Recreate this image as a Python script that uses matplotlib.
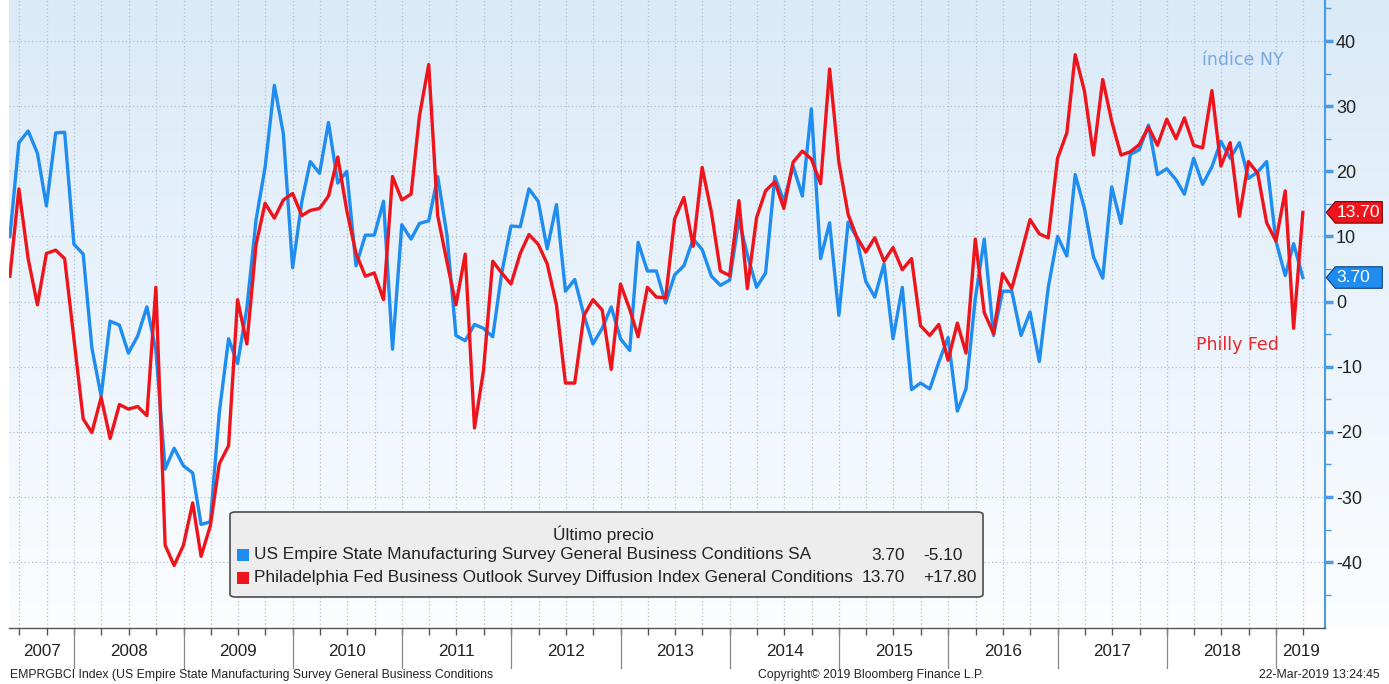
import numpy as np
import pandas as pd
import matplotlib
matplotlib.use('Agg')
import matplotlib.pyplot as plt
import matplotlib.dates as mdates
import matplotlib.transforms as mtransforms
from matplotlib import font_manager
from matplotlib.patches import FancyBboxPatch, Rectangle, Polygon

# monthly values, May 2007 .. Mar 2019 (plotted at month end, Bloomberg style)
start_month = '2007-05-01'

empire = [
    10.0, 24.4, 26.2, 22.8, 14.7, 25.9, 26.0, 8.8,                          # 2007
    7.3, -7.1, -14.5, -3.0, -3.6, -7.9, -5.3, -0.8, -7.5, -25.7, -22.5, -25.2,  # 2008
    -26.3, -34.2, -33.8, -17.0, -5.7, -9.5, -1.0, 12.6, 20.6, 33.2, 25.8, 5.2,  # 2009
    15.4, 21.5, 19.7, 27.5, 18.2, 20.0, 5.5, 10.2, 10.2, 15.4, -7.3, 11.8,      # 2010
    9.6, 12.0, 12.4, 19.2, 10.2, -5.2, -6.0, -3.5, -4.1, -5.4, 4.4, 11.6,       # 2011
    11.5, 17.3, 15.4, 8.1, 14.9, 1.6, 3.4, -2.1, -6.5, -4.1, -0.8, -5.7,        # 2012
    -7.5, 9.1, 4.7, 4.7, -0.2, 4.1, 5.5, 9.6, 8.0, 3.9, 2.5, 3.3,               # 2013
    12.6, 7.2, 2.2, 4.4, 19.2, 15.4, 20.8, 16.2, 29.6, 6.6, 12.1, -2.1,         # 2014
    12.2, 9.9, 3.1, 0.7, 5.8, -5.7, 2.2, -13.5, -12.5, -13.4, -9.3, -5.5,       # 2015
    -16.8, -13.4, 0.5, 9.6, -5.2, 1.6, 1.6, -5.2, -1.6, -9.2, 2.2, 10.0,        # 2016
    7.0, 19.5, 14.3, 6.9, 3.6, 17.6, 12.0, 22.6, 23.3, 27.1, 19.5, 20.4,        # 2017
    18.7, 16.5, 22.0, 18.0, 20.7, 24.6, 22.0, 24.4, 18.9, 19.9, 21.5, 9.3,      # 2018
    4.0, 8.9, 3.7,                                                              # 2019
]

philly = [
    3.9, 17.3, 6.6, -0.5, 7.4, 7.9, 6.6, -5.7,
    -18.0, -20.1, -14.7, -21.0, -15.8, -16.5, -16.1, -17.5, 2.2, -37.4, -40.5, -37.4,
    -30.9, -39.1, -34.4, -24.9, -22.1, 0.3, -6.5, 8.8, 15.1, 12.8, 15.6, 16.6,
    13.2, 14.0, 14.3, 16.2, 22.2, 14.0, 7.4, 3.9, 4.4, 0.3, 19.2, 15.6,
    16.5, 28.5, 36.4, 13.2, 6.1, -0.5, 7.3, -19.4, -10.6, 6.2, 4.4, 2.7,
    7.4, 10.3, 8.8, 5.8, -0.5, -12.5, -12.5, -2.1, 0.3, -1.3, -10.4, 2.7,
    -1.2, -5.4, 2.2, 0.7, 0.6, 12.7, 16.0, 8.5, 20.6, 13.7, 4.7, 4.0,
    15.5, 2.0, 12.9, 17.0, 18.4, 14.3, 21.4, 23.1, 21.9, 18.1, 35.7, 21.4,
    13.4, 10.0, 7.6, 9.8, 6.2, 8.3, 4.9, 6.6, -3.7, -5.2, -3.5, -9.0,
    -3.3, -7.9, 9.6, -1.7, -4.9, 4.3, 2.0, 7.3, 12.6, 10.4, 9.8, 22.0,
    25.9, 37.9, 32.3, 22.5, 34.1, 27.7, 22.5, 23.0, 24.1, 26.8, 24.0, 28.0,
    25.0, 28.2, 24.0, 23.6, 32.4, 20.8, 24.4, 13.1, 21.5, 19.7, 12.1, 9.3,
    17.0, -4.1, 13.7,
]

years = list(range(2007, 2020))
yticks = [-40, -30, -20, -10, 0, 10, 20, 30, 40]

legend_title = 'Último precio'
legend_rows = [
    ('US Empire State Manufacturing Survey General Business Conditions SA', '3.70', '-5.10'),
    ('Philadelphia Fed Business Outlook Survey Diffusion Index General Conditions', '13.70', '+17.80'),
]
last_values = [3.7, 13.7]

BLUE = '#1f8cf0'
RED = '#ee141c'
AXBLUE = '#4b9be6'
INK = '#222222'

names = {f.name for f in font_manager.fontManager.ttflist}
FONT = 'Liberation Sans Narrow' if 'Liberation Sans Narrow' in names else 'Liberation Sans'
plt.rcParams['font.family'] = [FONT, 'DejaVu Sans']
plt.rcParams['axes.unicode_minus'] = False

dates = pd.date_range(start_month, periods=len(empire), freq='MS') + pd.offsets.MonthEnd(0)

W, H = 1389, 684
fig = plt.figure(figsize=(W / 100, H / 100), dpi=100)
fig.patch.set_facecolor('white')
renderer = fig.canvas.get_renderer()


def fit_width(t, width_px):
    # scale a text so that it spans the width seen in the reference
    bb = t.get_window_extent(renderer)
    t.set_fontsize(t.get_fontsize() * width_px / bb.width)
    return t.get_fontsize()


plot_bottom = 628  # pixel from top
left_px, right_px = 9, 1325

# gradient background, also behind the right-hand scale
bg = fig.add_axes([left_px / W, (H - plot_bottom) / H, (W - left_px) / W, plot_bottom / H], zorder=0)
grad = np.linspace(0, 1, 256)[:, None]
top_c = np.array([0.855, 0.918, 0.972])
bot_c = np.array([0.985, 0.992, 1.0])
img = top_c[None, None, :] * (1 - grad[:, :, None]) + bot_c[None, None, :] * grad[:, :, None]
bg.imshow(img, aspect='auto', extent=[0, 1, 0, 1])
bg.set_axis_off()

ax = fig.add_axes([left_px / W, (H - plot_bottom) / H, (right_px - left_px) / W, plot_bottom / H], zorder=1)
ax.patch.set_visible(False)

ax.plot(dates, empire, color=BLUE, lw=2.4, zorder=3)
ax.plot(dates, philly, color=RED, lw=2.4, zorder=4)

ax.set_xlim(pd.Timestamp('2007-05-28'), pd.Timestamp('2019-06-13'))
ax.set_ylim(-50.1, 46.3)

ax.xaxis.set_major_locator(mdates.MonthLocator(bymonth=[1, 4, 7, 10]))
ax.xaxis.set_major_formatter(plt.NullFormatter())
ax.tick_params(axis='x', direction='out', length=5, width=1, color='#555555')

ax.yaxis.tick_right()
ax.set_yticks(yticks)
ax.set_yticks(np.arange(-45, 46, 10), minor=True)
ax.tick_params(axis='y', which='major', direction='out', length=6, width=2.5, color=AXBLUE,
               labelsize=13, labelcolor=INK, pad=2)
ax.tick_params(axis='y', which='minor', direction='out', length=4, width=1, color=AXBLUE)

ax.grid(True, which='major', color='#b4c1d0', linestyle=(0, (1, 2)), lw=0.9)

for s in ['top', 'left']:
    ax.spines[s].set_visible(False)
ax.spines['right'].set_color(AXBLUE)
ax.spines['right'].set_linewidth(1.5)
ax.spines['bottom'].set_color('#555555')
ax.spines['bottom'].set_linewidth(1)

# year band under the axis
trans = mtransforms.blended_transform_factory(ax.transData, ax.transAxes)
xmin, xmax = ax.get_xlim()
year_size = None
for y in years:
    x0 = mdates.date2num(pd.Timestamp(f'{y}-01-01'))
    x1 = mdates.date2num(pd.Timestamp(f'{y + 1}-01-01'))
    if xmin < x0 < xmax:
        ax.plot([x0, x0], [0, -40 / plot_bottom], color='#888888', lw=0.9,
                transform=trans, clip_on=False)
    c = (max(x0, xmin) + min(x1, xmax)) / 2
    t = ax.text(c, -24 / plot_bottom, str(y), transform=trans, ha='center', va='center',
                fontsize=14, color=INK)
    if year_size is None:
        year_size = fit_width(t, 38)
    else:
        t.set_fontsize(year_size)

# last value badges on the scale
btrans = mtransforms.blended_transform_factory(ax.transAxes, ax.transData)
aw = right_px - left_px
for val, col, edge in [(last_values[1], RED, '#7a0000'), (last_values[0], BLUE, '#0a3f80')]:
    h = 1.65
    x0 = 1.001
    pts = [(x0, val), (x0 + 9 / aw, val + h), (x0 + 56 / aw, val + h),
           (x0 + 56 / aw, val - h), (x0 + 9 / aw, val - h)]
    ax.add_patch(Polygon(pts, closed=True, facecolor=col, edgecolor=edge, lw=0.8,
                         transform=btrans, clip_on=False, zorder=6))
    ax.text(x0 + 10 / aw, val, f'{val:.2f}', transform=btrans, ha='left', va='center',
            color='white', fontsize=12.5, zorder=7, clip_on=False)

# series annotations
fig.text(1243 / W, 1 - 60 / H, 'índice NY', ha='center', va='center', color='#7aa8e2',
         fontsize=12.5, family='DejaVu Sans')
fig.text(1237 / W, 1 - 345 / H, 'Philly Fed', ha='center', va='center', color='#e8262e',
         fontsize=12.5, family='DejaVu Sans')

# legend box
box = FancyBboxPatch((230 / W, 1 - 597 / H), 753 / W, 85 / H,
                     boxstyle='round,pad=0,rounding_size=0.004', transform=fig.transFigure,
                     facecolor='#ededed', edgecolor='#4d4d4d', lw=1.2, zorder=10)
fig.patches.append(box)
row_texts = []
for i, (label, last, chg) in enumerate(legend_rows):
    yy = 1 - (555 + 22.5 * i) / H
    col = [BLUE, RED][i]
    fig.patches.append(Rectangle((237 / W, yy - 6 / H), 12 / W, 12 / H, transform=fig.transFigure,
                                 facecolor=col, edgecolor='none', zorder=11))
    row_texts.append(fig.text(254 / W, yy, label, ha='left', va='center', fontsize=14,
                              color=INK, zorder=11))
    row_texts.append(fig.text(905 / W, yy, last, ha='right', va='center', fontsize=14,
                              color=INK, zorder=11))
    row_texts.append(fig.text(923 / W, yy, chg, ha='left', va='center', fontsize=14,
                              color=INK, zorder=11))
leg_size = fit_width(row_texts[3], 600)
for t in row_texts:
    t.set_fontsize(leg_size)
fig.text(603 / W, 1 - 534 / H, legend_title, ha='center', va='center', fontsize=leg_size,
         color=INK, zorder=11)

# footer
ft = fig.text(10 / W, 1 - 675 / H,
              'EMPRGBCI Index (US Empire State Manufacturing Survey General Business Conditions',
              ha='left', va='center', fontsize=10, color=INK)
foot_size = fit_width(ft, 482)
fig.text(758 / W, 1 - 675 / H, 'Copyright© 2019 Bloomberg Finance L.P.', ha='left', va='center',
         fontsize=foot_size, color=INK)
fig.text(1380 / W, 1 - 675 / H, '22-Mar-2019 13:24:45', ha='right', va='center',
         fontsize=foot_size, color=INK)

fig.savefig('out.png', dpi=100, facecolor='white')
